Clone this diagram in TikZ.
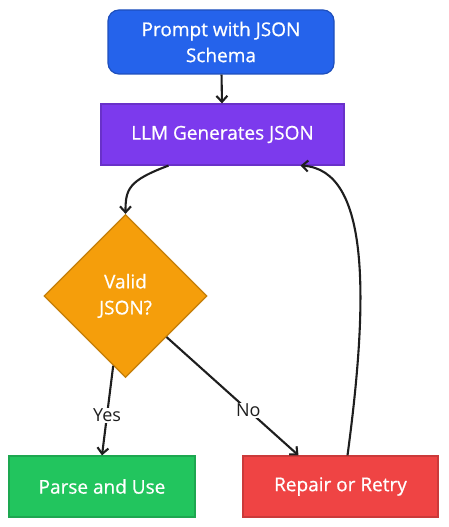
\documentclass[tikz,border=0pt]{standalone}
\usepackage{fontspec}
\setmainfont{Open Sans}
\newfontfamily\boxfont{Open Sans}[FakeBold=0.6]
\usetikzlibrary{shapes.geometric,arrows.meta,positioning}
\definecolor{inkline}{HTML}{1E1E1E}
\definecolor{promptblue}{HTML}{2563EB}
\definecolor{llmpurple}{HTML}{7C3AED}
\definecolor{validorange}{HTML}{F59E0B}
\definecolor{parsegreen}{HTML}{22C55E}
\definecolor{repairred}{HTML}{EF4444}
\tikzset{>={Straight Barb[length=6pt,width=11pt]}, % open arrow heads
flow/.style={line width=2.1pt, draw=inkline}, % every connector
box/.style={draw, line width=1.2pt, text=white, align=center, inner sep=0pt,
  font=\boxfont\fontsize{19}{26}\selectfont}, % sets the properties for each box
lbl/.style={fill=white, text=inkline, inner sep=1pt, font=\fontsize{18}{20}\selectfont}, % edge labels
}

\begin{document}
\begin{tikzpicture}[x=1pt,y=1pt]
\useasboundingbox (0,0) rectangle (448,527);
\node[box, rounded corners=11pt, fill=promptblue, draw=promptblue!80!black,
  minimum width=226pt, minimum height=64pt] (prompt) at (221,485) {Prompt with JSON\\Schema};
\node[box, fill=llmpurple, draw=llmpurple!85!black,
  minimum width=243pt, minimum height=61pt] (llm) at (222.5,392.5) {LLM Generates JSON};
\node[box, diamond, fill=validorange, draw=validorange!80!black,
  minimum width=163pt, minimum height=163pt] (valid) at (125.5,231) {Valid\\JSON?};
\node[box, fill=parsegreen, draw=parsegreen!85!black,
  minimum width=186pt, minimum height=61pt] (parse) at (102,40.5) {Parse and Use};
\node[box, fill=repairred, draw=repairred!85!black,
  minimum width=195pt, minimum height=61pt] (repair) at (340.5,40.5) {Repair or Retry};
\draw[flow] (prompt) edge[->] (llm)
(valid.-100) edge[->] node[lbl, pos=0.55]{Yes} (parse.north)
(valid.south east) edge[->] node[lbl, pos=0.62]{No} ([xshift=-42pt]repair.north);
\draw[flow, ->] ([xshift=-54pt]llm.south) .. controls +(-40,-15) and +(0,25) .. (valid.north);
\draw[flow, ->] ([xshift=7pt]repair.north) .. controls +(21,156) and +(70,-4) .. ([xshift=78pt]llm.south);
\end{tikzpicture}
\end{document}
